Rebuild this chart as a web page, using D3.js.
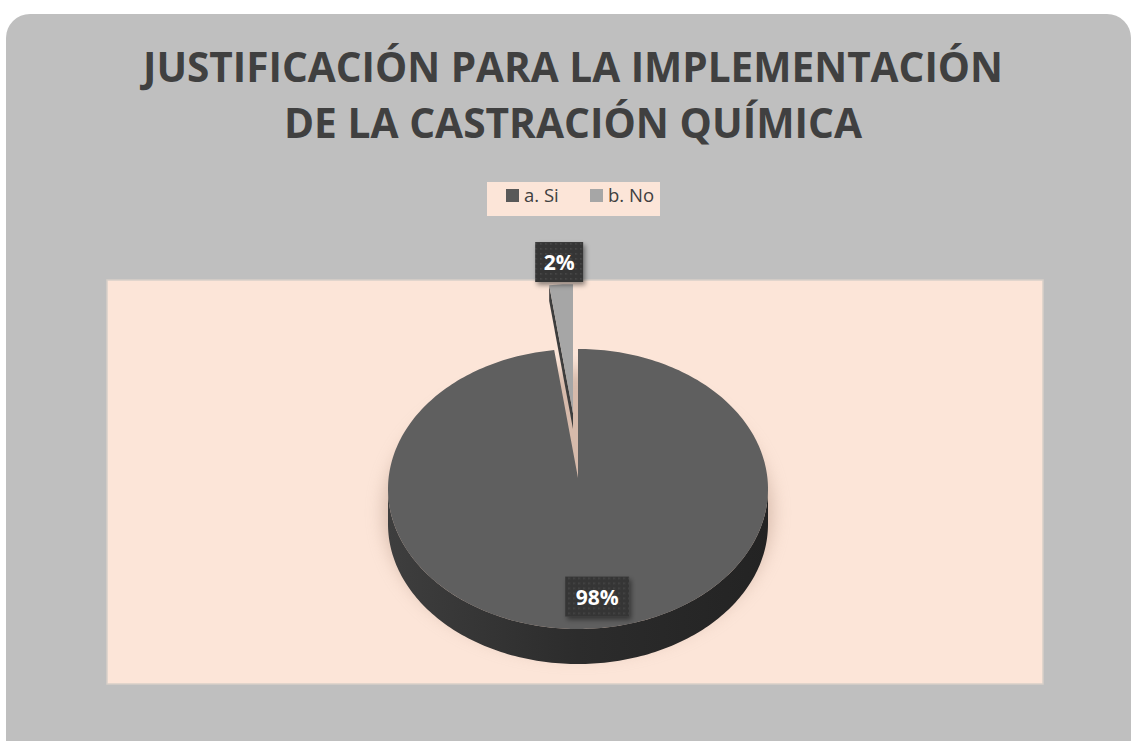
<!DOCTYPE html>
<html>
<head>
<meta charset="utf-8">
<script src="https://cdn.jsdelivr.net/npm/d3@7"></script>
<style>
body{margin:0;background:#fff}
svg{display:block}
</style>
</head>
<body>
<div id="chart"></div>
<script>
var categories = ["a. Si", "b. No"]
var values = [98, 2]
var pct_labels = ["98%", "2%"]
var title_lines = ["JUSTIFICACIÓN PARA LA IMPLEMENTACIÓN", "DE LA CASTRACIÓN QUÍMICA"]
var top_colors = ["#5f5f5f", "#a6a6a6"]
var legend_colors = ["#595959", "#a6a6a6"]

var W = 1131, H = 741
var cx = 578, cy = 489, rx = 190, ry = 140, depth = 35
var apexLift = 11  // perspective: the centre point sits a bit above the ellipse centre
var explode = 65

var svg = d3.select("#chart").append("svg").attr("width", W).attr("height", H)
var defs = svg.append("defs")

// side gradient of the 3d pie
var sg = defs.append("linearGradient").attr("id", "side").attr("x1", 0).attr("x2", 1).attr("y1", 0).attr("y2", 0)
sg.append("stop").attr("offset", 0).attr("stop-color", "#3e3e3e")
sg.append("stop").attr("offset", 0.5).attr("stop-color", "#2c2c2c")
sg.append("stop").attr("offset", 1).attr("stop-color", "#232323")

var blur = defs.append("filter").attr("id", "soft").attr("x", "-30%").attr("y", "-30%").attr("width", "160%").attr("height", "160%")
blur.append("feGaussianBlur").attr("stdDeviation", 9)

var lblShadow = defs.append("filter").attr("id", "lblsh").attr("x", "-30%").attr("y", "-30%").attr("width", "160%").attr("height", "160%")
lblShadow.append("feDropShadow").attr("dx", 2).attr("dy", 3).attr("stdDeviation", 2.5).attr("flood-color", "#000").attr("flood-opacity", 0.45)

var pat = defs.append("pattern").attr("id", "dots").attr("width", 5).attr("height", 5).attr("patternUnits", "userSpaceOnUse")
pat.append("rect").attr("width", 5).attr("height", 5).attr("fill", "#363636")
pat.append("rect").attr("x", 1).attr("y", 1).attr("width", 1.5).attr("height", 1.5).attr("fill", "#4a4a4a")

// chart background
svg.append("rect").attr("x", 6).attr("y", 14).attr("width", W - 6).attr("height", 800)
    .attr("rx", 24).attr("fill", "#bfbfbf")

// plot area
svg.append("rect").attr("x", 107).attr("y", 280).attr("width", 936).attr("height", 404)
    .attr("fill", "#fce5d8").attr("stroke", "#d8cfc9").attr("stroke-width", 1.5)

// title
svg.selectAll("text.title").data(title_lines).enter().append("text")
    .attr("class", "title")
    .attr("x", 573)
    .attr("y", (d, i) => 82 + i * 56)
    .attr("text-anchor", "middle")
    .attr("textLength", (d, i) => i == 0 ? 860 : 578)
    .attr("lengthAdjust", "spacingAndGlyphs")
    .style("font-family", "'Open Sans', sans-serif")
    .style("font-weight", "bold")
    .style("font-size", "42px")
    .attr("fill", "#404040")
    .text(d => d)

// legend
var lg = svg.append("g")
lg.append("rect").attr("x", 487).attr("y", 182).attr("width", 173).attr("height", 34).attr("fill", "#fce5d8")
var litems = lg.selectAll("g.li").data(categories).enter().append("g")
    .attr("transform", (d, i) => "translate(" + (506 + i * 84) + ",189)")
litems.append("rect").attr("width", 13).attr("height", 13).attr("fill", (d, i) => legend_colors[i])
litems.append("text").attr("x", 18).attr("y", 13)
    .style("font-family", "'Open Sans', sans-serif").style("font-size", "18.5px")
    .attr("fill", "#404040").text(d => d)

// pie geometry
var pie = d3.pie().sort(null).startAngle(0).endAngle(2 * Math.PI)
var arcs = pie(values)
var xs = d3.scaleLinear().domain([-1, 1]).range([cx - rx, cx + rx])
var ys = d3.scaleLinear().domain([-1, 1]).range([cy + ry, cy - ry])

function pt(a, r, off) {
    return [xs(r * Math.sin(a)) + off[0], ys(r * Math.cos(a)) + off[1]]
}
function apex(off) {
    return [xs(0) + off[0], ys(0) - apexLift + off[1]]
}
function arcPts(a0, a1, r, off) {
    var n = Math.max(2, Math.ceil(Math.abs(a1 - a0) / 0.02))
    return d3.range(n + 1).map(k => pt(a0 + (a1 - a0) * k / n, r, off))
}
function offsetOf(d, i) {
    if (i == 0) return [0, 0]
    var mid = (d.startAngle + d.endAngle) / 2
    return [Math.sin(mid) * explode * rx / ry * 0.9, -Math.cos(mid) * explode]
}
var line = d3.line()

// soft shadow under the pie
var shadowPts = arcPts(0, 2 * Math.PI, 1.02, [0, depth / 2 + 6])
svg.append("path").attr("d", line(shadowPts) + "Z").attr("fill", "#b89887").attr("opacity", 0.55).attr("filter", "url(#soft)")

var g = svg.append("g")

// exploded small slice first (it sits behind)
arcs.forEach(function (d, i) {
    if (i == 0) return
    var off = offsetOf(d, i)
    var offB = [off[0], off[1] + depth * 0.45]
    var tip = apex(off), tipB = apex(offB)
    var outer = pt(d.startAngle, 1, off), outerB = pt(d.startAngle, 1, offB)
    g.append("path").attr("d", line([tip, outer, outerB, tipB]) + "Z").attr("fill", "#3d3d3d")
    var facePts = [tip].concat(arcPts(d.startAngle, d.endAngle, 1, off))
    g.append("path").attr("d", line(facePts) + "Z").attr("fill", top_colors[i])
})

// big slice: side then top
var big = arcs[0]
var s0 = Math.max(big.startAngle, Math.PI / 2), s1 = Math.min(big.endAngle, 3 * Math.PI / 2)
var sideTop = arcPts(s0, s1, 1, [0, 0])
var sideBot = arcPts(s1, s0, 1, [0, depth])
g.append("path").attr("d", line(sideTop.concat(sideBot)) + "Z").attr("fill", "url(#side)")
var bigFace = [apex([0, 0])].concat(arcPts(big.startAngle, big.endAngle, 1, [0, 0]))
g.append("path").attr("d", line(bigFace) + "Z").attr("fill", top_colors[0])

// data labels
var lblPos = arcs.map(function (d, i) {
    var mid = (d.startAngle + d.endAngle) / 2
    if (i == 0) return pt(mid, 0.77, [10, 0])
    return pt(mid, 1.16, offsetOf(d, i))
})
var lbls = svg.selectAll("g.lbl").data(arcs).enter().append("g")
    .attr("transform", (d, i) => "translate(" + lblPos[i][0] + "," + lblPos[i][1] + ")")
var bw = [64, 48]
lbls.append("rect")
    .attr("x", (d, i) => -bw[i] / 2).attr("y", -20)
    .attr("width", (d, i) => bw[i]).attr("height", 40)
    .attr("fill", "url(#dots)").attr("filter", "url(#lblsh)")
lbls.append("text").attr("text-anchor", "middle").attr("y", 8)
    .style("font-family", "'Open Sans', sans-serif").style("font-weight", "bold").style("font-size", "21px")
    .attr("fill", "#fff").text((d, i) => pct_labels[i])
</script>
</body>
</html>
